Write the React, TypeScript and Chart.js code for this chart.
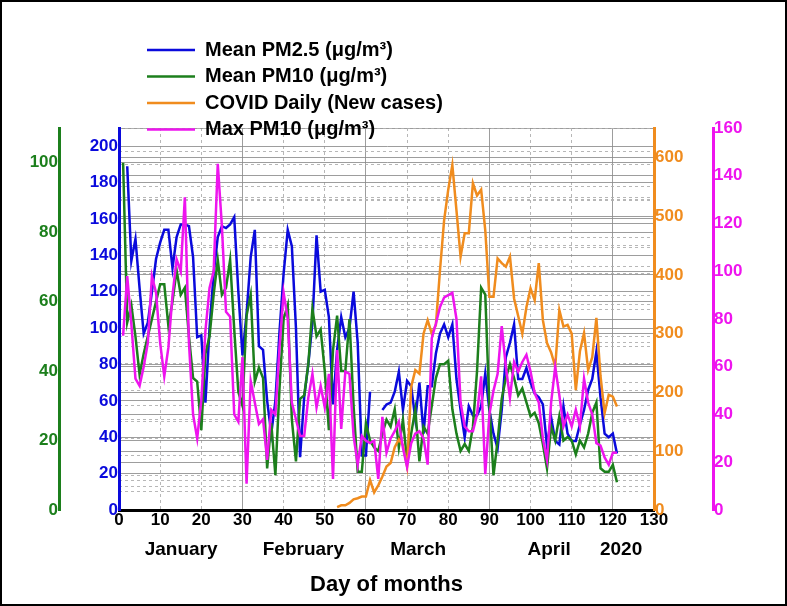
import React, { useEffect, useRef } from 'react';
import { Chart, registerables } from 'chart.js';

Chart.register(...registerables);

// ---------- data ----------
const days = [
  1, 2, 3, 4, 5, 6, 7, 8, 9, 10, 11, 12, 13, 14, 15, 16, 17, 18, 19, 20,
  21, 22, 23, 24, 25, 26, 27, 28, 29, 30, 31, 32, 33, 34, 35, 36, 37, 38, 39, 40,
  41, 42, 43, 44, 45, 46, 47, 48, 49, 50, 51, 52, 53, 54, 55, 56, 57, 58, 59, 60,
  61, 62, 63, 64, 65, 66, 67, 68, 69, 70, 71, 72, 73, 74, 75, 76, 77, 78, 79, 80,
  81, 82, 83, 84, 85, 86, 87, 88, 89, 90, 91, 92, 93, 94, 95, 96, 97, 98, 99, 100,
  101, 102, 103, 104, 105, 106, 107, 108, 109, 110, 111, 112, 113, 114, 115, 116, 117, 118, 119, 120,
  121,
];

const meanPM25 = [
  null, 189, 137, 149, 122, 97, 103, 120, 138, 147,
  154, 154, 133, 150, 157, 157, 156, 139, 95, 96,
  59, 100, 130, 150, 156, 155, 157, 161, 120, 85,
  108, 139, 154, 90, 88, 60, 42, 60, 98, 130,
  154, 145, 100, 29, 62, 80, 103, 151, 120, 121,
  106, 58, 88, 106, 95, 100, 120, 92, 30, 30,
  65, null, null, 55, 58, 59, 65, 76, 55, 71,
  68, 50, 70, 42, 68, 68, 86, 97, 102, 95,
  102, 72, 55, 40, 57, 52, 52, 57, 75, 55,
  42, 34, 55, 84, 92, 102, 72, 72, 78, 70,
  64, 62, 58, 35, 51, 38, 36, 57, 42, 38,
  38, 47, 55, 66, 72, 87, 62, 42, 40, 42,
  31,
];

const meanPM10 = [
  100, 54, 59, 50, 39, 45, 50, 55, 60, 65,
  65, 53, 60, 69, 62, 64, 50, 38, 37, 23,
  45, 50, 62, 72, 62, 64, 72, 52, 34, 30,
  56, 62, 37, 41, 38, 12, 25, 10, 35, 55,
  59, 26, 14, 32, 33, 42, 58, 50, 52, 40,
  23, 46, 56, 40, 40, 55, 30, 11, 11, 25,
  20, 18, 17, 22, 26, 24, 29, 18, 26, 14,
  22, 29, 14, 24, 22, 30, 38, 42, 42, 43,
  29, 22, 17, 19, 17, 24, 40, 64, 62, 30,
  10, 20, 32, 38, 42, 38, 33, 35, 31, 27,
  28, 25, 19, 12, 24, 20, 27, 20, 21, 20,
  16, 20, 18, 22, 28, 31, 12, 11, 11, 13,
  8,
];

const covidDaily = [
  null, null, null, null, null, null, null, null, null, null,
  null, null, null, null, null, null, null, null, null, null,
  null, null, null, null, null, null, null, null, null, null,
  null, null, null, null, null, null, null, null, null, null,
  null, null, null, null, null, null, null, null, null, null,
  null, null, 5, 8, 8, 12, 18, 20, 23, 23,
  51, 30, 42, 57, 74, 80, 107, 120, 110, 74,
  210, 238, 232, 300, 323, 300, 315, 408, 493, 545,
  587, 510, 431, 471, 471, 556, 535, 545, 476, 363,
  363, 428, 420, 414, 431, 360, 330, 300, 345, 377,
  357, 420, 323, 284, 268, 244, 340, 312, 315, 300,
  204, 270, 301, 238, 260, 327, 228, 165, 196, 193,
  176,
];

const maxPM10 = [
  73, 98, 78, 55, 52, 60, 70, 98, 91, 70,
  56, 68, 90, 105, 100, 131, 70, 40, 30, 46,
  75, 93, 100, 145, 119, 83, 81, 40, 37, 64,
  11, 54, 45, 36, 38, 21, 42, 40, 68, 91,
  80, 45, 38, 31, 31, 47, 57, 43, 52, 43,
  57, 13, 67, 34, 58, 57, 31, 19, 31, 29,
  28, 29, 13, 39, 24, 30, 33, 37, 26, 18,
  28, 32, 33, 30, 19, 72, 78, 85, 89, 90,
  91, 80, 45, 35, 33, 33, 40, 56, 15, 40,
  50, 57, 77, 60, 47, 62, 58, 62, 65, 58,
  49, 45, 30, 21, 45, 60, 48, 35, 40, 35,
  42, 35, 55, 45, 40, 28, 27, 22, 19, 24,
  24,
];

const seriesLabels = [
  'Mean PM2.5 (\u03bcg/m\u00b3)',
  'Mean PM10 (\u03bcg/m\u00b3)',
  'COVID Daily (New cases)',
  'Max PM10 (\u03bcg/m\u00b3)',
];

const monthTickValues = [15.1, 44.8, 72.7, 104.5, 122];
const monthLabels = ['January', 'February', 'March', 'April', '2020'];
const xAxisTitle = 'Day of months';

// ---------- styles ----------
const FONT = '"Liberation Sans", Arial, Helvetica, sans-serif';
const BLUE = '#0a0adc';
const GREEN = '#1c7f1c';
const ORANGE = '#f08c1e';
const MAGENTA = '#ee14ee';
const GRID_MAJOR = 'rgba(140,140,140,0.85)';
const GRID_MINOR = 'rgba(175,175,175,0.9)';
const NONE = 'rgba(0,0,0,0)';

const toPoints = (vals: (number | null)[]) => vals.map((v, i) => ({ x: days[i], y: v }));

const tickFont = { family: FONT, size: 17, weight: 'bold' as const };

const legendMover = {
  id: 'legendMover',
  afterLayout(chart: any) {
    const lg = chart.legend;
    if (!lg) return;
    const w = lg.width;
    lg.left = 138.5;
    lg.top = 31.5;
    lg.right = lg.left + w;
    lg.bottom = lg.top + 220;
  },
};

function minorAxis(pos: 'left' | 'right', max: number, step: number, major: number) {
  return {
    type: 'linear' as const,
    position: pos,
    min: 0,
    max,
    weight: 0,
    ticks: { display: false, stepSize: step, includeBounds: false },
    grid: {
      drawTicks: false,
      lineWidth: 1,
      color: (ctx: any) =>
        ctx.tick && Math.round(ctx.tick.value) % major !== 0 ? GRID_MINOR : NONE,
    },
    border: { display: false, dash: [3, 3] },
    afterFit: (s: any) => {
      s.width = 0;
    },
  };
}

function mainYAxis(pos: 'left' | 'right', max: number, step: number, color: string, weight: number, width: number) {
  return {
    type: 'linear' as const,
    position: pos,
    min: 0,
    max,
    weight,
    ticks: { stepSize: step, includeBounds: false, color, font: tickFont, padding: 1 },
    grid: { drawTicks: false, lineWidth: 1, color: GRID_MAJOR },
    border: { display: true, color, width: 3 },
    afterFit: (s: any) => {
      s.width = width;
    },
  };
}

export default function App() {
  const ref = useRef<HTMLCanvasElement>(null);

  useEffect(() => {
    if (!ref.current) return;
    const chart = new Chart(ref.current, {
      type: 'line',
      data: {
        datasets: [
          {
            label: seriesLabels[0],
            data: toPoints(meanPM25),
            yAxisID: 'yBlue',
            borderColor: BLUE,
            backgroundColor: BLUE,
            borderWidth: 2.5,
            pointRadius: 0,
            spanGaps: false,
            order: 3,
          },
          {
            label: seriesLabels[1],
            data: toPoints(meanPM10),
            yAxisID: 'yGreen',
            borderColor: GREEN,
            backgroundColor: GREEN,
            borderWidth: 2.5,
            pointRadius: 0,
            spanGaps: false,
            order: 2,
          },
          {
            label: seriesLabels[2],
            data: toPoints(covidDaily),
            yAxisID: 'yOrange',
            borderColor: ORANGE,
            backgroundColor: ORANGE,
            borderWidth: 2.5,
            pointRadius: 0,
            spanGaps: false,
            order: 1,
          },
          {
            label: seriesLabels[3],
            data: toPoints(maxPM10),
            yAxisID: 'yMagenta',
            borderColor: MAGENTA,
            backgroundColor: MAGENTA,
            borderWidth: 2.5,
            pointRadius: 0,
            spanGaps: false,
            order: 0,
          },
        ],
      },
      options: {
        animation: false,
        responsive: false,
        maintainAspectRatio: false,
        devicePixelRatio: 1,
        layout: { padding: { left: 0, right: 32, top: 126, bottom: 6 } },
        plugins: {
          tooltip: { enabled: false },
          legend: {
            position: 'chartArea',
            align: 'start',
            labels: {
              usePointStyle: true,
              pointStyle: 'line',
              pointStyleWidth: 48,
              color: '#000',
              padding: 6.5,
              font: { family: FONT, size: 20, weight: 'bold' },
              sort: (a: any, b: any) => a.datasetIndex - b.datasetIndex,
            },
          },
        },
        scales: {
          x: {
            type: 'linear',
            position: 'bottom',
            min: 0,
            max: 130,
            weight: 0,
            ticks: {
              stepSize: 10,
              color: '#000',
              font: tickFont,
              padding: 0,
              maxRotation: 0,
              autoSkip: false,
            },
            grid: {
              drawTicks: false,
              lineWidth: 1,
              color: (ctx: any) => {
                const v = ctx.tick ? Math.round(ctx.tick.value) : 0;
                return v % 30 === 0 && v > 0 && v < 130 ? GRID_MAJOR : NONE;
              },
            },
            border: { display: true, color: '#000', width: 3 },
            afterFit: (s: any) => {
              s.height = 28;
            },
          },
          xMinor: {
            type: 'linear',
            position: 'bottom',
            min: 0,
            max: 130,
            weight: 2,
            ticks: { display: false, stepSize: 10 },
            grid: {
              drawTicks: false,
              lineWidth: 1,
              color: (ctx: any) => {
                const v = ctx.tick ? Math.round(ctx.tick.value) : 0;
                return v % 30 !== 0 ? GRID_MINOR : NONE;
              },
            },
            border: { display: false, dash: [3, 3] },
            afterFit: (s: any) => {
              s.height = 0;
            },
          },
          xMonth: {
            type: 'linear',
            position: 'bottom',
            min: 0,
            max: 130,
            weight: 1,
            afterBuildTicks: (s: any) => {
              s.ticks = monthTickValues.map((v) => ({ value: v }));
            },
            ticks: {
              autoSkip: false,
              maxRotation: 0,
              padding: 0,
              color: '#000',
              font: { family: FONT, size: 19, weight: 'bold' },
              callback: (_v: any, i: number) => monthLabels[i],
            },
            grid: { display: false, drawTicks: false },
            border: { display: false },
            title: {
              display: true,
              text: xAxisTitle,
              color: '#000',
              font: { family: FONT, size: 22, weight: 'bold' },
              padding: 0,
            },
            afterFit: (s: any) => {
              s.height = 60;
            },
          },
          yGreen: mainYAxis('left', 110, 20, GREEN, 2, 57),
          yBlue: mainYAxis('left', 210, 20, BLUE, 1, 60),
          yOrange: mainYAxis('right', 650, 100, ORANGE, 1, 59),
          yMagenta: mainYAxis('right', 160, 20, MAGENTA, 2, 40),
          yBlueMinor: minorAxis('left', 210, 10, 20),
          yGreenMinor: minorAxis('left', 110, 10, 20),
          yOrangeMinor: minorAxis('right', 650, 50, 100),
          yMagentaMinor: minorAxis('right', 160, 10, 20),
        },
      } as any,
      plugins: [legendMover],
    });
    return () => chart.destroy();
  }, []);

  return (
    <div
      style={{
        position: 'absolute',
        left: 0,
        top: 0,
        width: 787,
        height: 606,
        boxSizing: 'border-box',
        border: '2px solid #000',
        background: '#fff',
      }}
    >
      <canvas ref={ref} width={783} height={602} style={{ display: 'block', width: 783, height: 602 }} />
    </div>
  );
}
